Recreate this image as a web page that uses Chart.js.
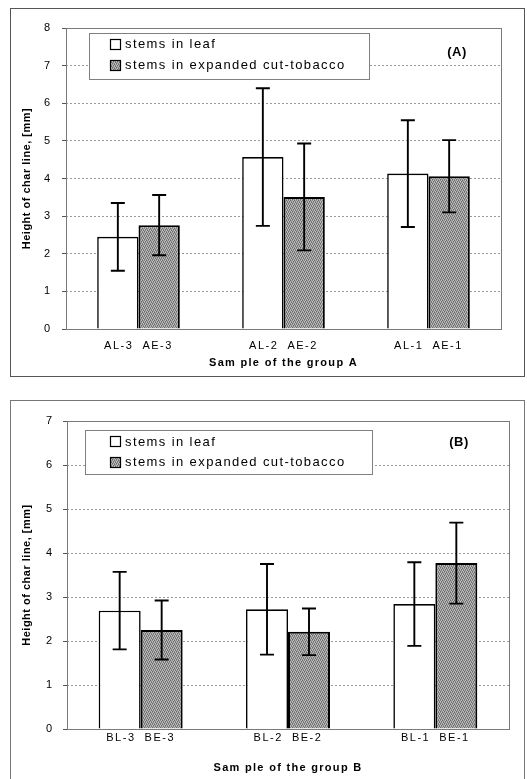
<!DOCTYPE html>
<html lang="en">
<head>
<meta charset="UTF-8">
<title>Height of char line</title>
<script src="https://cdn.jsdelivr.net/npm/chart.js"></script>
<style>
    body { margin: 0; background: #fff; overflow: hidden; }
    .frame { position: absolute; left: 10px; width: 513px; border: 1px solid #555; }
    #frameA { top: 8px; height: 367px; }
    #frameB { top: 400px; height: 378px; border-color: #777; border-bottom: none; }
    canvas { position: absolute; left: 0; top: 0; }
</style>
</head>
<body>
<div class="frame" id="frameA"><canvas id="chartA" width="513" height="367"></canvas></div>
<div class="frame" id="frameB"><canvas id="chartB" width="513" height="378"></canvas></div>

<script>
    // group A
    const samplesA = ['AL-3  AE-3', 'AL-2  AE-2', 'AL-1  AE-1'];
    const leafA = [2.45, 4.57, 4.13];
    const leafErrA = [0.90, 1.83, 1.42];
    const cutA = [2.76, 3.51, 4.06];
    const cutErrA = [0.80, 1.42, 0.96];

    // group B
    const samplesB = ['BL-3  BE-3', 'BL-2  BE-2', 'BL-1  BE-1'];
    const leafB = [2.69, 2.72, 2.84];
    const leafErrB = [0.88, 1.03, 0.95];
    const cutB = [2.25, 2.21, 3.77];
    const cutErrB = [0.67, 0.53, 0.92];

    const seriesNames = ['stems in leaf', 'stems in expanded cut-tobacco'];
    const yTitle = 'Height of char line, [mm]';

    const FONT = "'Liberation Sans', Arial, sans-serif";

    function grayPattern() {
        const c = document.createElement('canvas');
        c.width = 4; c.height = 4;
        const g = c.getContext('2d');
        const shades = ['#868686', '#c2c2c2', '#6a6a6a', '#a9a9a9'];
        for (let y = 0; y < 4; y++) {
            for (let x = 0; x < 4; x++) {
                g.fillStyle = shades[(x + 2 * y + (y > 1 ? 1 : 0)) % 4];
                g.fillRect(x, y, 1, 1);
            }
        }
        return g.createPattern(c, 'repeat');
    }
    const gray = grayPattern();

    // canvas text has no letter-spacing option in Chart.js, so wrap the draw calls
    function spaceText(scale, fn, px) {
        const orig = scale[fn];
        scale[fn] = function () {
            this.ctx.letterSpacing = px;
            orig.apply(this, arguments);
            this.ctx.letterSpacing = '0px';
        };
    }

    const errorBars = {
        id: 'errorBars',
        afterDatasetsDraw(chart) {
            const ctx = chart.ctx, y = chart.scales.y;
            ctx.save();
            ctx.strokeStyle = '#000';
            ctx.lineWidth = 1.9;
            chart.data.datasets.forEach((ds, i) => {
                chart.getDatasetMeta(i).data.forEach((bar, j) => {
                    const hi = y.getPixelForValue(ds.data[j] + ds.errors[j]);
                    const lo = y.getPixelForValue(ds.data[j] - ds.errors[j]);
                    ctx.beginPath();
                    ctx.moveTo(bar.x, hi); ctx.lineTo(bar.x, lo);
                    ctx.moveTo(bar.x - 7, hi); ctx.lineTo(bar.x + 7, hi);
                    ctx.moveTo(bar.x - 7, lo); ctx.lineTo(bar.x + 7, lo);
                    ctx.stroke();
                });
            });
            ctx.restore();
        }
    };

    const panel = {
        id: 'panel',
        afterLayout(chart) {
            const x = chart.scales.x, y = chart.scales.y;
            if (x.spaced) return;
            x.spaced = true;
            spaceText(x, 'drawLabels', '1.5px');
            spaceText(x, 'drawTitle', '1.3px');
            spaceText(y, 'drawTitle', '0.5px');
        },
        beforeDatasetsDraw(chart) {
            const {ctx, chartArea: a} = chart;
            ctx.save();
            ctx.strokeStyle = '#7a7a7a';
            ctx.lineWidth = 1;
            ctx.strokeRect(Math.round(a.left) + 0.5, Math.round(a.top) + 0.5,
                Math.round(a.right - a.left), Math.round(a.bottom - a.top));
            ctx.restore();
        },
        afterDraw(chart, args, o) {
            const {ctx, chartArea: a} = chart;
            const bx = a.left + o.box[0], by = a.top + o.box[1];
            ctx.save();
            ctx.fillStyle = '#fff';
            ctx.fillRect(bx, by, o.box[2], o.box[3]);
            ctx.strokeStyle = '#808080';
            ctx.lineWidth = 1;
            ctx.strokeRect(Math.round(bx) + 0.5, Math.round(by) + 0.5, o.box[2], o.box[3]);

            ctx.font = '13px ' + FONT;
            ctx.textBaseline = 'middle';
            ctx.letterSpacing = '1.4px';
            chart.data.datasets.forEach((ds, i) => {
                const cy = by + o.rows[i];
                const sx = Math.round(bx + o.swatch) + 0.5;
                ctx.fillStyle = ds.backgroundColor;
                ctx.fillRect(sx, Math.round(cy - 5.5) + 0.5, 10, 10);
                ctx.strokeStyle = '#000';
                ctx.lineWidth = 1.2;
                ctx.strokeRect(sx, Math.round(cy - 5.5) + 0.5, 10, 10);
                ctx.fillStyle = '#000';
                ctx.fillText(ds.label, bx + o.text, cy + 0.5);
            });

            ctx.letterSpacing = '0.5px';
            ctx.font = 'bold 13px ' + FONT;
            ctx.textAlign = 'center';
            ctx.fillText(o.tag, a.right - o.tagAt[0], a.top + o.tagAt[1]);
            ctx.restore();
        }
    };

    function makeChart(id, labels, leaf, leafErr, cut, cutErr, s) {
        new Chart(document.getElementById(id), {
            type: 'bar',
            data: {
                labels: labels,
                datasets: [{
                    label: seriesNames[0],
                    data: leaf,
                    errors: leafErr,
                    backgroundColor: '#ffffff',
                    borderColor: '#000',
                    borderWidth: 1.6
                }, {
                    label: seriesNames[1],
                    data: cut,
                    errors: cutErr,
                    backgroundColor: gray,
                    borderColor: '#000',
                    borderWidth: 2
                }]
            },
            options: {
                responsive: false,
                animation: false,
                events: [],
                layout: { padding: { left: 0, top: s.top, right: s.right, bottom: 0 } },
                datasets: { bar: { categoryPercentage: 0.57, barPercentage: 1 } },
                plugins: {
                    legend: { display: false },
                    tooltip: { enabled: false },
                    panel: { box: s.box, rows: s.rows, swatch: s.swatch, text: s.text, tag: s.tag, tagAt: s.tagAt }
                },
                scales: {
                    x: {
                        grid: { display: false, drawTicks: false },
                        border: { display: false },
                        ticks: { color: '#000', font: { family: FONT, size: 11 }, padding: s.xTickPad },
                        title: {
                            display: true,
                            text: s.xTitle,
                            color: '#000',
                            font: { family: FONT, size: 11, weight: 'bold' },
                            padding: { top: 0, bottom: s.xTitlePad }
                        },
                        afterFit: sc => { sc.height = s.xHeight; }
                    },
                    y: {
                        min: 0,
                        max: s.yMax,
                        grid: {
                            color: ctx => (ctx.tick.value === 0 || ctx.tick.value === s.yMax) ? 'rgba(0,0,0,0)' : '#9a9a9a',
                            tickLength: 4,
                            tickColor: '#555',
                            tickBorderDash: []
                        },
                        border: { display: false, dash: [2, 2] },
                        ticks: { stepSize: 1, color: '#000', font: { family: FONT, size: 11 }, padding: s.yTickPad },
                        title: {
                            display: true,
                            text: yTitle,
                            color: '#000',
                            font: { family: FONT, size: 11, weight: 'bold' },
                            padding: { top: s.yTitlePad, bottom: 0 }
                        },
                        afterFit: sc => { sc.width = s.yWidth; }
                    }
                }
            },
            plugins: [panel, errorBars]
        });
    }

    makeChart('chartA', samplesA, leafA, leafErrA, cutA, cutErrA, {
        top: 19, right: 23, yWidth: 55, xHeight: 47, yMax: 8,
        xTickPad: 10, xTitlePad: 6.4, yTickPad: 12, yTitlePad: 9.4,
        xTitle: 'Sam ple of the group A',
        box: [23, 5, 280, 46], rows: [11, 32], swatch: 21, text: 36,
        tag: '(A)', tagAt: [44, 24]
    });

    makeChart('chartB', samplesB, leafB, leafErrB, cutB, cutErrB, {
        top: 20, right: 15, yWidth: 56, xHeight: 50, yMax: 7,
        xTickPad: 2, xTitlePad: 4.7, yTickPad: 11, yTitlePad: 9.1,
        xTitle: 'Sam ple of the group B',
        box: [18, 9, 287, 44], rows: [11.7, 32.3], swatch: 25, text: 40,
        tag: '(B)', tagAt: [50, 21]
    });
</script>
</body>
</html>
